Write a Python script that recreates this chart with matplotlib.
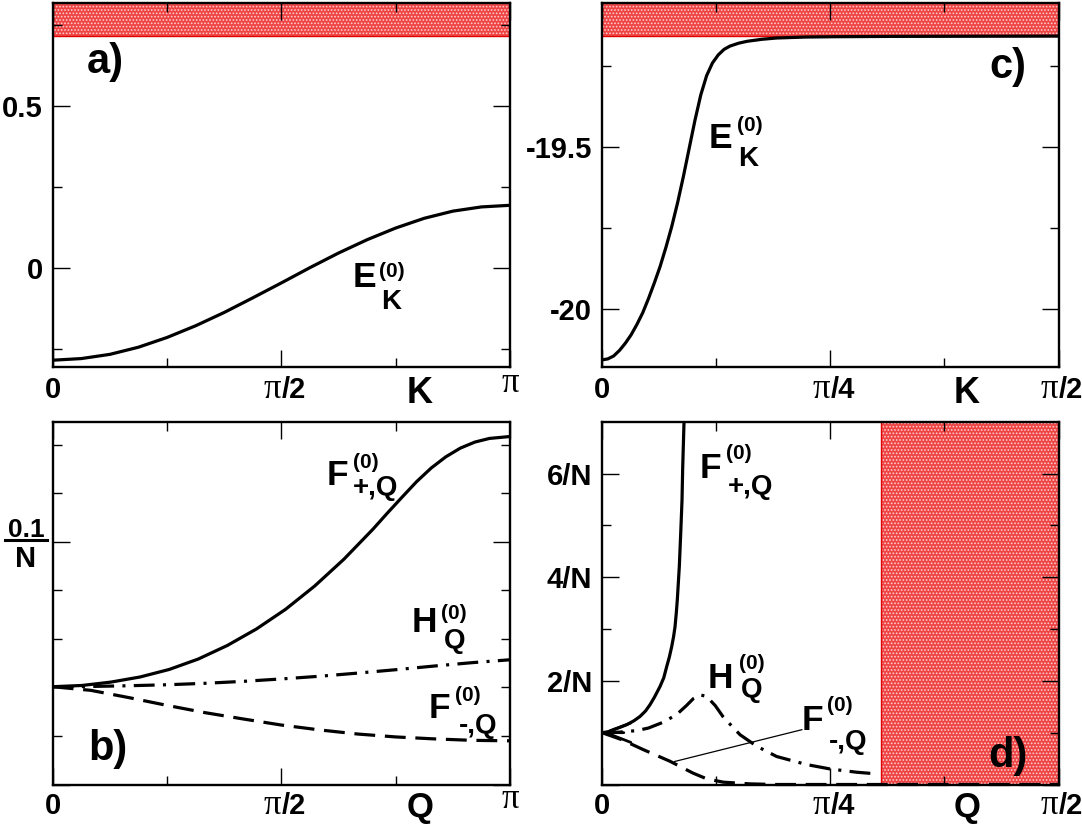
import numpy as np
import matplotlib
matplotlib.use('Agg')
import matplotlib.pyplot as plt
from matplotlib.lines import Line2D

plt.rcParams['font.family'] = ['Liberation Sans', 'DejaVu Sans']
plt.rcParams['font.weight'] = 'bold'
plt.rcParams['lines.scale_dashes'] = False
plt.rcParams['hatch.linewidth'] = 0.8

# ---------------- data ----------------
# panel a
K_a = [0.0, 0.1963, 0.3927, 0.5890, 0.7854, 0.9817, 1.1781, 1.3744, 1.5708,
       1.7671, 1.9635, 2.1598, 2.3562, 2.5525, 2.7489, 2.9452, 3.1416]
E_a = [-0.283, -0.278, -0.265, -0.243, -0.213, -0.177, -0.136, -0.091, -0.045,
       0.002, 0.047, 0.088, 0.124, 0.154, 0.176, 0.189, 0.194]
band_a_low = 0.716

# panel c
K_c = [0.0, 0.02, 0.04, 0.06, 0.08, 0.10, 0.12, 0.14, 0.16, 0.18, 0.20, 0.22,
       0.24, 0.26, 0.28, 0.30, 0.32, 0.34, 0.36, 0.38, 0.40, 0.42, 0.44, 0.47,
       0.50, 0.55, 0.60, 0.70, 0.80, 1.0, 1.5708]
E_c = [-20.157, -20.154, -20.145, -20.128, -20.106, -20.080, -20.048, -20.012,
       -19.968, -19.920, -19.869, -19.810, -19.746, -19.673, -19.592, -19.505,
       -19.418, -19.340, -19.281, -19.242, -19.217, -19.200, -19.190, -19.181,
       -19.175, -19.169, -19.165, -19.162, -19.161, -19.160, -19.159]
band_c_low = -19.159

# panel b (units of 1/N)
Q_bFp = [0.0, 0.2, 0.4, 0.6, 0.8, 1.0, 1.2, 1.4, 1.6, 1.8, 2.0, 2.2, 2.3, 2.4,
         2.5, 2.6, 2.7, 2.8, 2.9, 3.0, 3.1416]
Fp_b = [0.0403, 0.0408, 0.0422, 0.0443, 0.0474, 0.0517, 0.0573, 0.0641, 0.0722,
        0.0818, 0.0928, 0.1052, 0.1119, 0.1184, 0.1248, 0.1304, 0.1350, 0.1386,
        0.1411, 0.1426, 0.1434]
Q_b = [0.0, 0.2618, 0.5236, 0.7854, 1.0472, 1.3090, 1.5708, 1.8326, 2.0944,
       2.3562, 2.6180, 2.8798, 3.1416]
H_b = [0.0403, 0.0404, 0.0407, 0.0411, 0.0417, 0.0425, 0.0435, 0.0446, 0.0459,
       0.0473, 0.0488, 0.0502, 0.0514]
Fm_b = [0.0403, 0.0388, 0.0358, 0.0326, 0.0296, 0.0270, 0.0245, 0.0225, 0.0208,
        0.0196, 0.0188, 0.0182, 0.0180]

# panel d (units of 1/N)
Q_dFp = [0.0, 0.02, 0.0389, 0.06, 0.085, 0.11, 0.1308, 0.15, 0.165, 0.18,
         0.1996, 0.2126, 0.2226, 0.2318, 0.2398, 0.2462, 0.2512, 0.2555, 0.2591,
         0.266, 0.2708, 0.2753, 0.2777, 0.2822, 0.29]
Fp_d = [1.0, 1.015, 1.058, 1.10, 1.154, 1.23, 1.313, 1.42, 1.538, 1.68, 1.890,
        2.06, 2.275, 2.46, 2.66, 2.85, 3.04, 3.30, 3.56, 4.20, 4.84, 5.48, 6.12,
        6.99, 8.0]
Q_dH = [0.0, 0.06, 0.12, 0.16, 0.21, 0.257, 0.29, 0.315, 0.337, 0.36, 0.39,
        0.4175, 0.475, 0.532, 0.601, 0.704, 0.7845, 0.876, 0.945]
H_d = [1.0, 1.01, 1.04, 1.09, 1.20, 1.35, 1.52, 1.66, 1.73, 1.70, 1.52, 1.30,
       0.96, 0.74, 0.54, 0.385, 0.30, 0.237, 0.205]
Q_dFm = [0.0, 0.068, 0.142, 0.234, 0.313, 0.36, 0.4175, 0.509, 0.60, 1.5708]
Fm_d = [1.0, 0.865, 0.673, 0.448, 0.22, 0.11, 0.045, 0.012, 0.0, 0.0]
band_d_left = 0.96
leader_from = (0.24, 0.43)
leader_to = (0.6975, 1.071)

# ---------------- figure ----------------
W, H = 1082, 825
fig = plt.figure(figsize=(W / 100, H / 100), dpi=100)

def px_axes(l, r, t, b):
    return fig.add_axes([l / W, 1 - b / H, (r - l) / W, (b - t) / H])

ax_a = px_axes(52.7, 510, 3.3, 366.7)
ax_c = px_axes(602, 1058.5, 3.3, 366.7)
ax_b = px_axes(52.7, 510, 421.7, 784.5)
ax_d = px_axes(602, 1058.5, 421.7, 784.5)

LW = 2.3
dash = (0, (15, 7))
dashdot = (0, (15, 6, 2.2, 6))

for ax in (ax_a, ax_b, ax_c, ax_d):
    for s in ax.spines.values():
        s.set_linewidth(1.7)
    ax.tick_params(which='both', direction='in', top=True, right=True,
                   width=1.0, labelsize=21, pad=7)
    ax.tick_params(which='major', length=12)
    ax.tick_params(which='minor', length=6.5)

def red_band(ax, horizontal, lo):
    span = ax.axhspan if horizontal else ax.axvspan
    line = ax.axhline if horizontal else ax.axvline
    span(lo, 1e3, facecolor='#ee4444', edgecolor='none', zorder=0.5)
    span(lo, 1e3, facecolor='none', edgecolor='#ffcccc', hatch='.....',
         lw=0, zorder=0.6)
    line(lo, color='#e00000', lw=1.0, zorder=0.7)

PX = 0.72  # points per pixel

def xt(ax, x, s, ha, below_px, serif=False):
    ax.annotate(s, xy=(x, 0), xycoords=('data', 'axes fraction'),
                xytext=(0, -below_px * PX), textcoords='offset points',
                ha=ha, va='baseline', annotation_clip=False,
                fontsize=25 if serif else 21,
                family='Liberation Serif' if serif else 'Liberation Sans',
                fontweight='normal' if serif else 'bold')

def xticklabels(ax, major, denom, base, pi_base):
    ax.set_xticks(major)
    ax.set_xticklabels(['', '', ''])
    xt(ax, major[0], '0', 'center', base)
    for x, d in zip(major[1:], denom):
        if d is None:
            xt(ax, x, '\u03c0', 'center', pi_base, serif=True)
        else:
            xt(ax, x, '\u03c0', 'right', base, serif=True)
            xt(ax, x, '/' + d, 'left', base)

pi = np.pi

# panel a
ax_a.plot(K_a, E_a, color='k', lw=LW, zorder=3)
red_band(ax_a, True, band_a_low)
ax_a.set_xlim(0, pi)
ax_a.set_ylim(-0.303, 0.816)
xticklabels(ax_a, [0, pi / 2, pi], ['2', None], 31.5, 25)
ax_a.set_xticks([pi / 4, 3 * pi / 4], minor=True)
ax_a.set_yticks([0, 0.5])
ax_a.set_yticklabels(['0', '0.5'])
ax_a.set_yticks([-0.25, 0.25, 0.75], minor=True)

# panel c
ax_c.plot(K_c, E_c, color='k', lw=LW, zorder=3)
red_band(ax_c, True, band_c_low)
ax_c.set_xlim(0, pi / 2)
ax_c.set_ylim(-20.178, -19.058)
xticklabels(ax_c, [0, pi / 4, pi / 2], ['4', '2'], 31.5, 25)
ax_c.set_xticks([pi / 8, 3 * pi / 8], minor=True)
ax_c.set_yticks([-20, -19.5])
ax_c.set_yticklabels(['-20', '-19.5'])
ax_c.set_yticks([-19.75, -19.25], minor=True)

# panel b
ax_b.plot(Q_bFp, Fp_b, color='k', lw=LW, zorder=3)
ax_b.plot(Q_b, H_b, color='k', lw=LW, linestyle=dashdot, zorder=3)
ax_b.plot(Q_b, Fm_b, color='k', lw=LW, linestyle=dash, zorder=3)
ax_b.set_xlim(0, pi)
ax_b.set_ylim(0, 0.1495)
xticklabels(ax_b, [0, pi / 2, pi], ['2', None], 29, 24)
ax_b.set_xticks([pi / 4, 3 * pi / 4], minor=True)
ax_b.set_yticks([0, 0.1])
ax_b.set_yticklabels(['', ''])
ax_b.set_yticks([0.02, 0.04, 0.06, 0.08, 0.12, 0.14], minor=True)

# panel d
red_band(ax_d, False, band_d_left)
ax_d.plot(Q_dFp, Fp_d, color='k', lw=LW, zorder=3)
ax_d.plot(Q_dH, H_d, color='k', lw=LW, linestyle=dashdot, zorder=3)
ax_d.plot(Q_dFm, Fm_d, color='k', lw=LW, linestyle=dash, zorder=3, clip_on=False)
ax_d.set_xlim(0, pi / 2)
ax_d.set_ylim(0, 7)
xticklabels(ax_d, [0, pi / 4, pi / 2], ['4', '2'], 29, 24)
ax_d.set_xticks([pi / 8, 3 * pi / 8], minor=True)
ax_d.set_yticks([0, 2, 4, 6])
ax_d.set_yticklabels(['', '2/N', '4/N', '6/N'])
ax_d.set_yticks([1, 3, 5], minor=True)
ax_d.annotate('', xy=leader_from, xytext=leader_to,
              arrowprops=dict(arrowstyle='-', lw=0.9, color='k'), zorder=4)
ax_d.annotate('', xy=(Q_dFm[0], Fm_d[0]), xytext=(0.075, Fm_d[0]),
              arrowprops=dict(arrowstyle='->,head_length=0.9,head_width=0.35',
                              lw=2.0, color='k', mutation_scale=20,
                              shrinkA=0, shrinkB=0), zorder=4)

# ---------------- text ----------------
def put(x, y, s, size, ha='left'):
    fig.text(x / W, 1 - y / H, s, fontsize=size, fontweight='bold',
             ha=ha, va='baseline')

MAIN, SUP, SUB = 25.5, 15, 20

def sym(x, y, main, sup, sub, xs, ys, xb, yb):
    put(x, y, main, MAIN)
    put(xs, ys, sup, SUP)
    put(xb, yb, sub, SUB)

sym(352.7, 287.3, 'E', '(0)', 'K', 379.5, 277, 380.7, 309.3)
sym(709, 148, 'E', '(0)', 'K', 736.5, 131, 738, 166)
sym(327, 485, 'F', '(0)', '+,Q', 352.5, 467.5, 353, 495)
sym(412, 631.7, 'H', '(0)', 'Q', 440.6, 619, 444, 648)
sym(429, 718.3, 'F', '(0)', '-,Q', 455, 701, 459, 733)
sym(700, 478, 'F', '(0)', '+,Q', 726, 459, 728, 494)
sym(708, 688, 'H', '(0)', 'Q', 738.5, 669, 740.4, 697)
sym(802, 730, 'F', '(0)', '-,Q', 826.5, 711, 828.5, 749)

put(87, 73.3, 'a)', 30)
put(88, 760, 'b)', 30)
put(989, 78, 'c)', 30)
put(988.5, 766.7, 'd)', 30)

put(420, 403, 'K', 26, ha='center')
put(966.7, 403, 'K', 26, ha='center')
put(420, 817, 'Q', 25, ha='center')
put(967.6, 817, 'Q', 25, ha='center')

# 0.1/N fraction label of panel b
put(26, 536.7, '0.1', 19, ha='center')
put(26, 566.7, 'N', 21, ha='center')
fig.add_artist(Line2D([5 / W, 46.6 / W], [1 - 539.8 / H] * 2, color='k', lw=2.2,
                      transform=fig.transFigure))

fig.savefig('out.png', dpi=100)
